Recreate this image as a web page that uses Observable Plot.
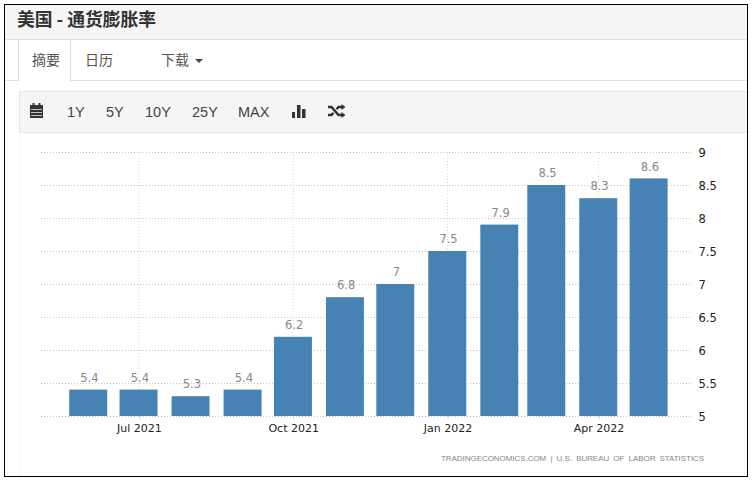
<!DOCTYPE html>
<html><head><meta charset="utf-8">
<script src="https://cdn.jsdelivr.net/npm/d3@7"></script>
<script src="https://cdn.jsdelivr.net/npm/@observablehq/plot@0.6"></script>
<style>
html,body{margin:0;padding:0;width:752px;height:480px;overflow:hidden;background:#fff;}
body{position:relative;font-family:"Liberation Sans","Noto Sans CJK SC",sans-serif;color:#333;}
.abs{position:absolute;box-sizing:border-box;}
#frame{left:4px;top:4px;width:744px;height:473px;border:1px solid #000;z-index:5;pointer-events:none;}
#head{left:5px;top:5px;width:742px;height:35px;background:#f5f5f5;border-bottom:1px solid #ddd;}
#title{left:17px;top:8px;font:bold 17.8px/20px "Noto Sans CJK SC",sans-serif;color:#333;white-space:nowrap;margin:0;}
#tabline{left:5px;top:80px;width:742px;height:1px;background:#ddd;}
#tab{left:18px;top:40px;width:53px;height:41px;background:#fff;border:1px solid #ddd;border-top:0;border-bottom:0;}
.tl{font:14px/20px "Noto Sans CJK SC",sans-serif;color:#555;white-space:nowrap;}
#bar{left:19px;top:91px;width:728px;height:42px;background:#f5f5f5;border:1px solid #e4e4e4;border-right:0;}
.btn{font:14.5px/20px "Liberation Sans",sans-serif;color:#444;top:102px;white-space:nowrap;}
#panelL{left:19px;top:133px;width:1px;height:343px;background:#f4f4f4;}
#chart{left:0;top:132px;}
#source{left:441px;top:453px;font:8px/12px "Liberation Sans",sans-serif;letter-spacing:-.05px;word-spacing:2px;color:#888;white-space:nowrap;}
svg.ic{position:absolute;}
</style></head>
<body>
<div class="abs" id="head"></div>
<h1 class="abs" id="title">美国 - 通货膨胀率</h1>
<div class="abs" id="tabline"></div>
<div class="abs" id="tab"></div>
<div class="abs tl" style="left:32px;top:49px">摘要</div>
<div class="abs tl" style="left:85px;top:49px">日历</div>
<div class="abs tl" style="left:161px;top:49px">下载</div>
<div class="abs" style="left:195px;top:59px;width:0;height:0;border-left:4px solid transparent;border-right:4px solid transparent;border-top:4px solid #444"></div>
<div class="abs" id="bar"></div>
<svg class="ic" style="left:29px;top:103px" width="15" height="16" viewBox="0 0 15 16"><path fill="#333" d="M1 2h13v13H1z"/><path fill="#f5f5f5" d="M2 6h11v.8H2zM2 9h11v.8H2zM2 12h11v.8H2z"/><path fill="#333" d="M3.500 0h2v3h-2zM9.500 0h2v3h-2z"/></svg>
<div class="abs btn" style="left:67px">1Y</div>
<div class="abs btn" style="left:106px">5Y</div>
<div class="abs btn" style="left:145px">10Y</div>
<div class="abs btn" style="left:192px">25Y</div>
<div class="abs btn" style="left:238px">MAX</div>
<svg class="ic" style="left:292px;top:104px" width="14" height="14" viewBox="0 0 14 14"><path fill="#333" d="M0 8h3v6H0zM5 1h3.500v13H5zM10 5h3.500v9H10z"/></svg>
<svg class="ic" style="left:328px;top:104px" width="18" height="14" viewBox="0 0 18 14"><path fill="none" stroke="#333" stroke-width="2.400" d="M0 3h3.500l7 8H14M0 11h3.500l2-2.300M8.500 5.300l2-2.300H14"/><path fill="#333" d="M13.500 0l4 3-4 3zM13.500 8l4 3-4 3z"/></svg>
<div class="abs" id="panelL"></div>
<div class="abs" id="chart"></div>
<div class="abs" id="source">TRADINGECONOMICS.COM | U.S. BUREAU OF LABOR STATISTICS</div>
<div class="abs" id="frame"></div>
<script>
const months = ["2021-06-01","2021-07-01","2021-08-01","2021-09-01","2021-10-01","2021-11-01","2021-12-01","2022-01-01","2022-02-01","2022-03-01","2022-04-01","2022-05-01"];
const values = [5.4,5.4,5.3,5.4,6.2,6.8,7,7.5,7.9,8.5,8.3,8.6];
const yTicks = [5,5.5,6,6.5,7,7.5,8,8.5,9];
const xTickDates = ["2021-07-01","2021-10-01","2022-01-01","2022-04-01"];
const xTickLabels = ["Jul 2021","Oct 2021","Jan 2022","Apr 2022"];
const xDomain = ["2021-05-04","2022-05-27"];

const dates = months.map(d => new Date(d + "T00:00:00Z"));
const xt = xTickDates.map(d => new Date(d + "T00:00:00Z"));
const rows = dates.map((date, i) => ({date, value: values[i], x1: d3.utcHour.offset(date, -268), x2: d3.utcHour.offset(date, 275)}));

const plot = Plot.plot({
  width: 752, height: 344,
  marginLeft: 41, marginRight: 60, marginTop: 20, marginBottom: 60,
  style: {background: "transparent", fontFamily: "'DejaVu Sans',sans-serif", overflow: "visible"},
  x: {type: "utc", domain: xDomain.map(d => new Date(d + "T00:00:00Z"))},
  y: {domain: [5, 9]},
  marks: [
    Plot.gridY(yTicks, {stroke: "#c4c4c4", strokeOpacity: 1, strokeDasharray: "1,2"}),
    Plot.gridX(xt, {stroke: "#d8d8d8", strokeOpacity: 1, strokeDasharray: "1,2"}),
    Plot.rectY(rows, {x1: "x1", x2: "x2", y1: 5, y2: "value", fill: "#4682b4"}),
    Plot.text(rows, {x: "date", y: "value", text: d => String(d.value), dx: 1, dy: -12, fill: "#888", fontSize: 11.5}),
    Plot.axisY(yTicks, {anchor: "right", tickSize: 0, tickPadding: 6, dy: 1, label: null, fill: "#222", fontSize: 11.5, tickFormat: d => String(d)}),
    Plot.axisX(xt, {anchor: "bottom", tickSize: 3, tickPadding: 5, label: null, stroke: "#ccc", fill: "#222", fontSize: 11, dx: 0.5, tickFormat: (d, i) => xTickLabels[i]})
  ]
});
document.getElementById("chart").appendChild(plot);
</script>
</body></html>
